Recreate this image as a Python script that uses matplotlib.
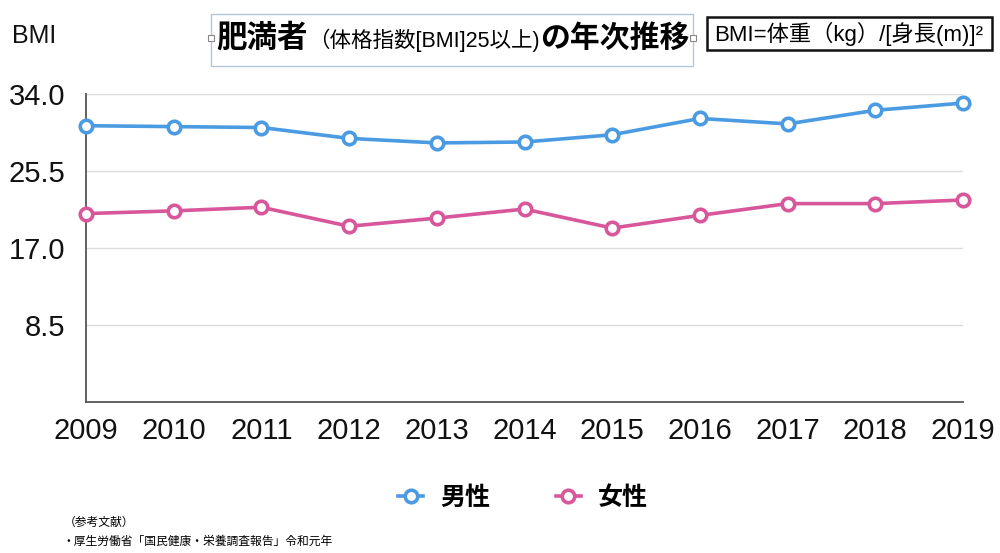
import matplotlib
matplotlib.use("Agg")
import matplotlib.pyplot as plt
from matplotlib.patches import Rectangle

plt.rcParams['font.family'] = ['Liberation Sans', 'Noto Sans CJK JP']
JP = ['Noto Sans CJK JP', 'DejaVu Sans']

# データ（厚生労働省 国民健康・栄養調査 肥満者の割合）
years = [2009, 2010, 2011, 2012, 2013, 2014, 2015, 2016, 2017, 2018, 2019]
male = [30.5, 30.4, 30.3, 29.1, 28.6, 28.7, 29.5, 31.3, 30.7, 32.2, 33.0]
female = [20.8, 21.1, 21.5, 19.4, 20.3, 21.3, 19.2, 20.6, 21.9, 21.9, 22.3]
y_ticks = [8.5, 17.0, 25.5, 34.0]
labels = ['男性', '女性']

blue = '#4b9be3'
pink = '#d8579b'

W, H = 1000, 553


def px(x, y):
    return x / W, 1 - y / H


fig = plt.figure(figsize=(10, 5.53), dpi=100)
ax = fig.add_axes([0.086, 1 - 402 / H, 0.963 - 0.086, (402 - 94) / H])

for vals, col, lab in [(male, blue, labels[0]), (female, pink, labels[1])]:
    ax.plot(years, vals, color=col, lw=2.6, marker='o', ms=9,
            mfc='white', mec=col, mew=2.6, clip_on=False, zorder=3, label=lab)

ax.set_xlim(2009, 2019)
ax.set_ylim(0, 34)
ax.set_xticks(years)
ax.set_yticks(y_ticks)
ax.set_yticklabels([f'{v:.1f}' for v in y_ticks])
ax.tick_params(axis='both', length=0, labelsize=21, colors='#111111')
ax.tick_params(axis='x', pad=11)
ax.tick_params(axis='y', pad=15)
ax.grid(axis='y', color='#dcdcdc', lw=1)
ax.set_axisbelow(True)
for s in ['top', 'right']:
    ax.spines[s].set_visible(False)
for s in ['left', 'bottom']:
    ax.spines[s].set_color('#555555')
    ax.spines[s].set_linewidth(1.3)

# 軸ラベル
fig.text(*px(12, 36), 'BMI', fontsize=18, va='center', ha='left', color='#111111')

# タイトル枠
fig.patches.append(Rectangle(px(211, 66), 482 / W, 52 / H, transform=fig.transFigure,
                             fill=False, ec='#b5c6d8', lw=1))
for hx in [211, 693]:
    fig.patches.append(Rectangle(px(hx - 3, 41), 6 / W, 6 / H, transform=fig.transFigure,
                                 fc='white', ec='#888888', lw=0.8))
fig.text(*px(216, 38), '肥満者', fontsize=22, fontweight='bold', va='center', ha='left', family=JP)
fig.text(*px(308, 40), '（体格指数[BMI]25以上)', fontsize=15.5, va='center', ha='left')
fig.text(*px(689, 38), 'の年次推移', fontsize=21.5, fontweight='bold', va='center', ha='right', family=JP)

# BMI式
fig.patches.append(Rectangle(px(707, 50), 285 / W, 33 / H, transform=fig.transFigure,
                             fill=False, ec='#111111', lw=1.8))
fig.text(*px(849, 34), 'BMI=体重（kg）/[身長(m)]²', fontsize=16, va='center', ha='center')

# 凡例
fig.legend(loc='center', bbox_to_anchor=px(523, 498), ncol=2, frameon=False,
           prop={'size': 18, 'weight': 'bold', 'family': JP}, handlelength=1.0,
           handletextpad=0.7, columnspacing=2.6)

# 参考文献
fig.text(*px(64, 522), '（参考文献）', fontsize=8.5, va='center', ha='left', family=JP)
fig.text(*px(62, 541), '・厚生労働省「国民健康・栄養調査報告」令和元年', fontsize=8.5,
         va='center', ha='left', family=JP)

fig.savefig('out.png', dpi=100)
